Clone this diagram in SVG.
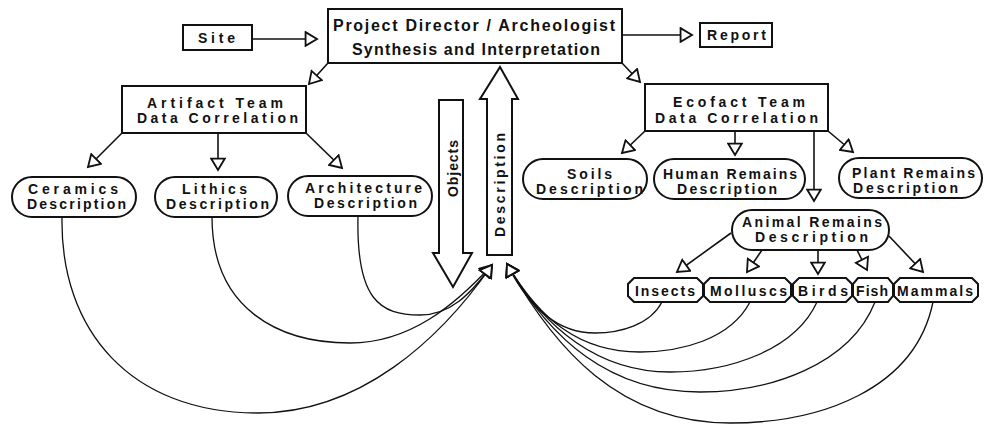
<svg xmlns="http://www.w3.org/2000/svg" width="984" height="426" viewBox="0 0 984 426">
<defs>
<marker id="ah" markerUnits="userSpaceOnUse" markerWidth="16" markerHeight="16" refX="11" refY="7" orient="auto" viewBox="0 0 14 14">
<path d="M1,1 L11,7 L1,13 Z" fill="#fff" stroke="#111" stroke-width="1.6" stroke-linejoin="miter"/>
</marker>
<style>
.bx{fill:#fff;stroke:#111;stroke-width:2}
.t{font-family:"Liberation Sans",Arial,sans-serif;font-weight:bold;font-size:14px;fill:#111;text-anchor:middle}
.tl{font-size:16px}
.c{fill:none;stroke:#111;stroke-width:1.6}
.cv{fill:none;stroke:#111;stroke-width:1.3}
</style>
</defs>
<rect width="984" height="426" fill="#fff"/>
<g id="connectors">
<line class="c" x1="252" y1="39" x2="317" y2="39" marker-end="url(#ah)"/>
<line class="c" x1="622" y1="35" x2="692" y2="35" marker-end="url(#ah)"/>
<line class="c" x1="328" y1="63" x2="309" y2="84" marker-end="url(#ah)"/>
<line class="c" x1="622" y1="63" x2="640" y2="82" marker-end="url(#ah)"/>
<line class="c" x1="122" y1="133" x2="88" y2="167" marker-end="url(#ah)"/>
<line class="c" x1="218" y1="133" x2="218" y2="170" marker-end="url(#ah)"/>
<line class="c" x1="306" y1="133" x2="342" y2="168" marker-end="url(#ah)"/>
<line class="c" x1="645" y1="131" x2="622" y2="153" marker-end="url(#ah)"/>
<line class="c" x1="735" y1="131" x2="735" y2="155" marker-end="url(#ah)"/>
<line class="c" x1="814" y1="131" x2="814" y2="201" marker-end="url(#ah)"/>
<line class="c" x1="828" y1="131" x2="853" y2="152" marker-end="url(#ah)"/>
<line class="c" x1="731" y1="233" x2="677" y2="272" marker-end="url(#ah)"/>
<line class="c" x1="762" y1="250" x2="747" y2="272" marker-end="url(#ah)"/>
<line class="c" x1="818" y1="250" x2="818" y2="274" marker-end="url(#ah)"/>
<line class="c" x1="857" y1="250" x2="867" y2="270" marker-end="url(#ah)"/>
<line class="c" x1="889" y1="236" x2="923" y2="272" marker-end="url(#ah)"/>
<path class="cv" d="M62,217 C60,330 130,413 258,413 C360,413 440,340 492,265" marker-end="url(#ah)"/>
<path class="cv" d="M212,217 C212,310 280,343 350,343 C410,343 455,305 492,265" marker-end="url(#ah)"/>
<path class="cv" d="M358,216 C356,300 380,315 420,315 C450,315 470,295 492,265" marker-end="url(#ah)"/>
<path class="cv" d="M662,302 C650,325 620,333 595,333 C560,333 530,310 507,264" marker-end="url(#ah)"/>
<path class="cv" d="M750,302 C730,340 680,352 640,352 C580,352 540,320 507,264" marker-end="url(#ah)"/>
<path class="cv" d="M817,302 C795,350 730,372 670,372 C600,372 545,330 507,264" marker-end="url(#ah)"/>
<path class="cv" d="M875,302 C850,365 770,392 700,392 C610,392 550,340 507,264" marker-end="url(#ah)"/>
<path class="cv" d="M933,302 C915,390 820,423 730,423 C620,423 555,350 507,264" marker-end="url(#ah)"/>
</g>
<g id="site"><rect class="bx" x="183" y="25" width="69" height="25"/><text class="t" x="216.5" y="43" textLength="37" lengthAdjust="spacing">Site</text></g>
<g id="director"><rect class="bx" x="328" y="9" width="294" height="54"/><text class="t tl" x="474" y="31" textLength="282" lengthAdjust="spacing">Project Director / Archeologist</text><text class="t tl" x="476" y="55" textLength="248" lengthAdjust="spacing">Synthesis and Interpretation</text></g>
<g id="report"><rect class="bx" x="700" y="23" width="72" height="24"/><text class="t" x="736.5" y="40" textLength="59" lengthAdjust="spacing">Report</text></g>
<g id="artifact"><rect class="bx" x="122" y="86" width="184" height="47"/><text class="t" x="215" y="108" textLength="136" lengthAdjust="spacing">Artifact Team</text><text class="t" x="217.5" y="123" textLength="161" lengthAdjust="spacing">Data Correlation</text></g>
<g id="ceramics"><rect class="bx" x="12" y="177" width="124" height="40" rx="20"/><text class="t" x="73" y="194" textLength="90" lengthAdjust="spacing">Ceramics</text><text class="t" x="76.5" y="209" textLength="99" lengthAdjust="spacing">Description</text></g>
<g id="lithics"><rect class="bx" x="155" y="177" width="122" height="40" rx="20"/><text class="t" x="214.5" y="194" textLength="65" lengthAdjust="spacing">Lithics</text><text class="t" x="217.5" y="209" textLength="103" lengthAdjust="spacing">Description</text></g>
<g id="architecture"><rect class="bx" x="288" y="176" width="144" height="40" rx="20"/><text class="t" x="363.5" y="193" textLength="117" lengthAdjust="spacing">Architecture</text><text class="t" x="365.5" y="208" textLength="103" lengthAdjust="spacing">Description</text></g>
<g id="objects"><polygon class="bx" points="439,100 463,100 463,253 472,253 453,287 433,253 439,253"/><text class="t" transform="translate(458,168.5) rotate(-90)" x="0" y="0" textLength="57" lengthAdjust="spacing">Objects</text></g>
<g id="description"><polygon class="bx" points="487,255 512,255 512,99 518,99 500,67 480,99 487,99"/><text class="t" transform="translate(505,185) rotate(-90)" x="0" y="0" textLength="104" lengthAdjust="spacing">Description</text></g>
<g id="ecofact"><rect class="bx" x="645" y="84" width="183" height="47"/><text class="t" x="739" y="107" textLength="132" lengthAdjust="spacing">Ecofact Team</text><text class="t" x="736.5" y="123" textLength="163" lengthAdjust="spacing">Data Correlation</text></g>
<g id="soils"><rect class="bx" x="523" y="159" width="124" height="40" rx="20"/><text class="t" x="589.5" y="179" textLength="45" lengthAdjust="spacing">Soils</text><text class="t" x="589.5" y="194" textLength="107" lengthAdjust="spacing">Description</text></g>
<g id="human"><rect class="bx" x="654" y="159" width="151" height="40" rx="20"/><text class="t" x="730" y="179" textLength="134" lengthAdjust="spacing">Human Remains</text><text class="t" x="727" y="194" textLength="100" lengthAdjust="spacing">Description</text></g>
<g id="plant"><rect class="bx" x="839" y="158" width="143" height="40" rx="20"/><text class="t" x="913.5" y="178" textLength="123" lengthAdjust="spacing">Plant Remains</text><text class="t" x="905.5" y="193" textLength="105" lengthAdjust="spacing">Description</text></g>
<g id="animal"><rect class="bx" x="732" y="210" width="157" height="40" rx="20"/><text class="t" x="812" y="227" textLength="140" lengthAdjust="spacing">Animal Remains</text><text class="t" x="811.5" y="242" textLength="113" lengthAdjust="spacing">Description</text></g>
<g id="insects"><polygon class="bx" points="634,278 697,278 703,284 703,296 697,302 634,302 628,296 628,284"/><text class="t" x="665" y="296" textLength="60" lengthAdjust="spacing">Insects</text></g>
<g id="molluscs"><polygon class="bx" points="710,278 785,278 791,284 791,296 785,302 710,302 704,296 704,284"/><text class="t" x="748.5" y="296" textLength="77" lengthAdjust="spacing">Molluscs</text></g>
<g id="birds"><polygon class="bx" points="799,278 846,278 852,284 852,296 846,302 799,302 793,296 793,284"/><text class="t" x="823" y="296" textLength="50" lengthAdjust="spacing">Birds</text></g>
<g id="fish"><polygon class="bx" points="858,278 888,278 893,284 893,296 888,302 858,302 853,296 853,284"/><text class="t" x="872" y="296" textLength="32" lengthAdjust="spacing">Fish</text></g>
<g id="mammals"><polygon class="bx" points="900,278 972,278 978,284 978,296 972,302 900,302 894,296 894,284"/><text class="t" x="935" y="296" textLength="76" lengthAdjust="spacing">Mammals</text></g>
</svg>
